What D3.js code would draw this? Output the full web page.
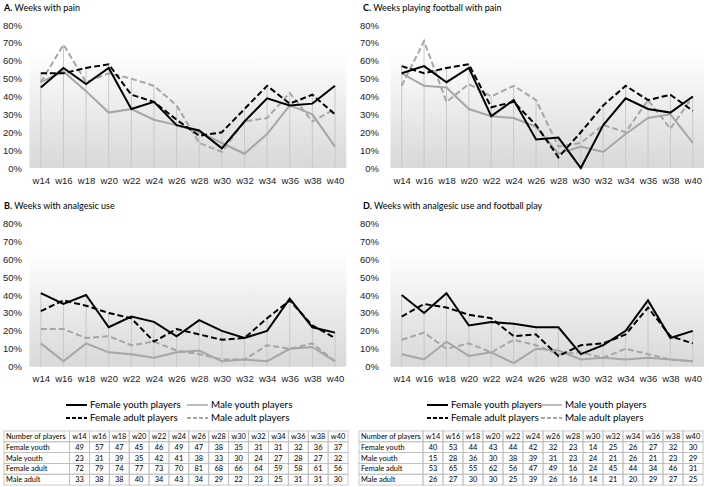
<!DOCTYPE html>
<html>
<head>
<meta charset="utf-8">
<script src="https://cdn.jsdelivr.net/npm/d3@7"></script>
<style>
  body { margin: 0; background: #fff; }
  svg { display: block; font-family: Lato, "Open Sans", sans-serif; }
</style>
</head>
<body>
<svg id="chart" width="709" height="487"></svg>
<script>
var weeks = ["w14", "w16", "w18", "w20", "w22", "w24", "w26", "w28", "w30", "w32", "w34", "w36", "w38", "w40"];
var yTicks = [0, 10, 20, 30, 40, 50, 60, 70, 80];
var seriesNames = ["Female youth players", "Male youth players", "Female adult players", "Male adult players"];

// A. Weeks with pain (%)
var painFY = [45, 56, 47, 56, 33, 37, 24, 21, 11, 26, 39, 35, 36, 46];
var painMY = [48, 54, 43, 31, 33, 27, 24, 20, 14, 8, 19, 35, 30, 12];
var painFA = [53, 53, 56, 58, 41, 37, 27, 18, 20, 33, 46, 36, 41, 30];
var painMA = [48, 69, 48, 53, 50, 46, 35, 14, 9, 26, 28, 42, 26, 33];

// B. Weeks with analgesic use (%)
var analgFY = [41, 35, 40, 22, 28, 25, 17, 26, 20, 16, 20, 38, 22, 19];
var analgMY = [13, 3, 13, 8, 7, 5, 8, 9, 3, 4, 3, 10, 11, 3];
var analgFA = [31, 37, 34, 30, 27, 14, 21, 18, 15, 16, 27, 37, 23, 16];
var analgMA = [21, 21, 16, 17, 12, 14, 9, 7, 4, 4, 12, 10, 13, 3];

// C. Weeks playing football with pain (%)
var playFY = [53, 57, 48, 56, 29, 38, 16, 17, 0, 24, 39, 33, 31, 40];
var playMY = [53, 46, 45, 33, 29, 28, 23, 8, 12, 9, 19, 28, 30, 14];
var playFA = [57, 53, 56, 58, 34, 37, 24, 6, 20, 35, 46, 38, 41, 32];
var playMA = [46, 71, 37, 47, 40, 46, 38, 12, 14, 24, 20, 38, 22, 40];

// D. Weeks with analgesic use and football play (%)
var bothFY = [40, 30, 41, 23, 25, 24, 22, 22, 7, 12, 20, 37, 16, 20];
var bothMY = [7, 4, 14, 6, 8, 2, 10, 9, 4, 5, 4, 5, 4, 3];
var bothFA = [28, 35, 33, 29, 27, 17, 18, 6, 12, 13, 18, 33, 17, 13];
var bothMA = [15, 19, 10, 13, 8, 15, 12, 7, 8, 5, 10, 7, 4, 3];

// number of players per week
var rowLabels = ["Female youth", "Male youth", "Female adult", "Male adult"];
var countsLeft = [
  [49, 57, 47, 45, 46, 49, 47, 38, 35, 31, 31, 32, 36, 37],
  [23, 31, 39, 35, 42, 41, 38, 33, 30, 24, 27, 28, 27, 32],
  [72, 79, 74, 77, 73, 70, 81, 68, 66, 64, 59, 58, 61, 56],
  [33, 38, 38, 40, 34, 43, 34, 29, 22, 23, 25, 31, 31, 30]
];
var countsRight = [
  [40, 53, 44, 43, 44, 42, 32, 23, 14, 25, 26, 27, 32, 30],
  [15, 28, 36, 30, 38, 39, 31, 23, 24, 21, 26, 21, 23, 29],
  [53, 65, 55, 62, 56, 47, 49, 16, 24, 45, 44, 34, 46, 31],
  [26, 27, 30, 30, 25, 39, 26, 16, 14, 21, 20, 29, 27, 25]
];

var styles = [
  {color: "#000", dash: null},
  {color: "#a6a6a6", dash: null},
  {color: "#000", dash: "6,3"},
  {color: "#a6a6a6", dash: "6,3"}
];

var svg = d3.select("#chart");

var defs = svg.append("defs");
var grad = defs.append("linearGradient")
    .attr("id", "bg")
    .attr("x1", 0).attr("y1", 0)
    .attr("x2", 0).attr("y2", 1);
grad.append("stop").attr("offset", "0%").attr("stop-color", "#ffffff");
grad.append("stop").attr("offset", "15%").attr("stop-color", "#ffffff");
grad.append("stop").attr("offset", "100%").attr("stop-color", "#d8d8d8");

function drawPanel(p) {
    var x = d3.scalePoint()
        .domain(weeks)
        .range([p.x0, p.x1])
        .padding(0.5);

    var y = d3.scaleLinear()
        .domain([0, 80])
        .range([p.yBottom, p.yTop]);

    var g = svg.append("g");

    g.append("text")
        .attr("x", p.titleX)
        .attr("y", p.titleY)
        .attr("dy", "0.35em")
        .attr("font-size", 9)
        .call(function (t) {
            t.append("tspan").attr("font-weight", "bold").text(p.letter + ". ");
            t.append("tspan").text(p.title);
        });

    // plot background
    g.append("rect")
        .attr("x", p.x0)
        .attr("y", y(80) + 6)
        .attr("width", p.x1 - p.x0)
        .attr("height", y(0) - y(80) - 6)
        .attr("fill", "url(#bg)");

    // y axis labels
    g.append("g")
        .attr("transform", "translate(" + p.labelRight + ",0)")
        .call(d3.axisLeft(y).tickValues(yTicks).tickSize(0).tickPadding(0)
            .tickFormat(function (d) { return d + "%"; }))
        .call(function (a) { a.select(".domain").remove(); })
        .call(function (a) {
            a.selectAll("text")
                .attr("font-size", 9.5)
                .attr("font-family", null)
                .attr("fill", "#222");
        });

    // x axis labels
    g.append("g")
        .attr("transform", "translate(0," + y(0) + ")")
        .call(d3.axisBottom(x).tickSize(0).tickPadding(9))
        .call(function (a) { a.select(".domain").remove(); })
        .call(function (a) {
            a.selectAll("text")
                .attr("font-size", 9.5)
                .attr("font-family", null)
                .attr("fill", "#222");
        });

    // drop lines from the highest point
    g.append("g")
        .selectAll("line")
        .data(weeks)
        .enter().append("line")
        .attr("x1", function (d) { return x(d); })
        .attr("x2", function (d) { return x(d); })
        .attr("y1", y(0))
        .attr("y2", function (d, i) {
            return y(d3.max(p.series, function (s) { return s[i]; }));
        })
        .attr("stroke", "#c8c8c8")
        .attr("stroke-width", 1);

    var line = d3.line()
        .x(function (d, i) { return x(weeks[i]); })
        .y(function (d) { return y(d); });

    // draw grey ones first, then black
    [3, 1, 2, 0].forEach(function (k) {
        g.append("path")
            .datum(p.series[k])
            .attr("d", line)
            .attr("fill", "none")
            .attr("stroke", styles[k].color)
            .attr("stroke-width", 2)
            .attr("stroke-dasharray", styles[k].dash);
    });
}

function drawLegend(l) {
    var pos = [
        [l.x1, l.y1], [l.x2, l.y1],
        [l.x1, l.y2], [l.x2, l.y2]
    ];
    var lg = svg.append("g")
        .selectAll("g")
        .data(seriesNames)
        .enter().append("g")
        .attr("transform", function (d, i) {
            return "translate(" + pos[i][0] + "," + pos[i][1] + ")";
        });

    lg.append("line")
        .attr("x1", 0)
        .attr("x2", 21)
        .attr("stroke", function (d, i) { return styles[i].color; })
        .attr("stroke-width", function (d, i) { return i == 1 ? 1.5 : 2; })
        .attr("stroke-dasharray", function (d, i) { return styles[i].dash ? "4,2" : null; });

    lg.append("text")
        .attr("x", 24)
        .attr("dy", "0.35em")
        .attr("font-size", 9.8)
        .text(function (d) { return d; });
}

function drawTable(t) {
    var cols = ["Number of players"].concat(weeks);
    var rows = [cols].concat(t.counts.map(function (r, i) {
        return [rowLabels[i]].concat(r);
    }));
    var colX = [t.x0, t.xFirst];
    var cw = (t.x1 - t.xFirst) / weeks.length;
    for (var i = 1; i <= weeks.length; i++) colX.push(t.xFirst + cw * i);
    var rh = t.rowH;

    var tg = svg.append("g").attr("font-size", 7.4);

    rows.forEach(function (r, ri) {
        r.forEach(function (c, ci) {
            tg.append("rect")
                .attr("x", colX[ci])
                .attr("y", t.y0 + ri * rh)
                .attr("width", colX[ci + 1] - colX[ci])
                .attr("height", rh)
                .attr("fill", "none")
                .attr("stroke", "#bdbdbd")
                .attr("stroke-width", 0.8);
            tg.append("text")
                .attr("x", ci == 0 ? colX[0] + 2 : (colX[ci] + colX[ci + 1]) / 2)
                .attr("y", t.y0 + ri * rh + rh / 2)
                .attr("dy", "0.35em")
                .attr("text-anchor", ci == 0 ? "start" : "middle")
                .text(c);
        });
    });
}

drawPanel({letter: "A", title: "Weeks with pain", titleX: 4, titleY: 8,
    x0: 29.5, x1: 346.3, yTop: 25, yBottom: 168, labelRight: 22,
    series: [painFY, painMY, painFA, painMA]});
drawPanel({letter: "B", title: "Weeks with analgesic use", titleX: 4, titleY: 205.5,
    x0: 29.5, x1: 346.3, yTop: 223.3, yBottom: 366.7, labelRight: 22,
    series: [analgFY, analgMY, analgFA, analgMA]});
drawPanel({letter: "C", title: "Weeks playing football with pain", titleX: 363, titleY: 8,
    x0: 390.5, x1: 704, yTop: 25, yBottom: 168, labelRight: 379,
    series: [playFY, playMY, playFA, playMA]});
drawPanel({letter: "D", title: "Weeks with analgesic use and football play", titleX: 363, titleY: 205.5,
    x0: 390.5, x1: 704, yTop: 223.3, yBottom: 366.7, labelRight: 379,
    series: [bothFY, bothMY, bothFA, bothMA]});

drawLegend({x1: 66, x2: 187, y1: 405, y2: 418});
drawLegend({x1: 427, x2: 541, y1: 405, y2: 418});

drawTable({counts: countsLeft, x0: 4, xFirst: 69.5, x1: 348, y0: 431, rowH: 10.8});
drawTable({counts: countsRight, x0: 359, xFirst: 423, x1: 703, y0: 431, rowH: 10.8});
</script>
</body>
</html>
